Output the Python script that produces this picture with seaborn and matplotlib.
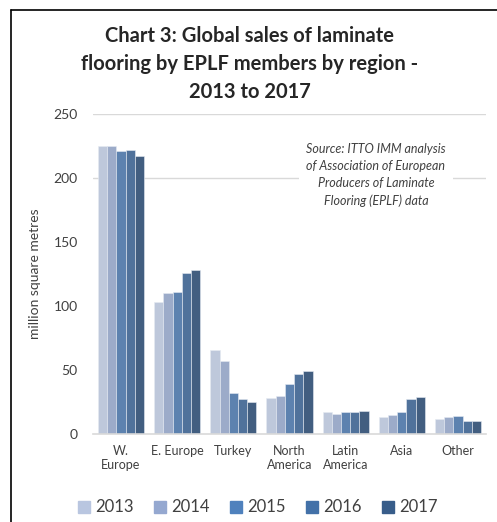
import pandas as pd
import numpy as np
import matplotlib.pyplot as plt
import seaborn as sns
from matplotlib.lines import Line2D

sns.set_style("white")
plt.rcParams['font.family'] = ['Lato', 'DejaVu Sans']

regions = ['W.\nEurope', 'E. Europe', 'Turkey', 'North\nAmerica', 'Latin\nAmerica', 'Asia', 'Other']
years = ['2013', '2014', '2015', '2016', '2017']
sales_2013 = [225, 103, 66, 28, 17, 13, 12]
sales_2014 = [225, 110, 57, 30, 16, 15, 13]
sales_2015 = [221, 111, 32, 39, 17, 17, 14]
sales_2016 = [222, 126, 27, 47, 17, 27, 10]
sales_2017 = [217, 128, 25, 49, 18, 29, 10]
y_ticks = [0, 50, 100, 150, 200, 250]
grid_at = [200, 250]

colors = ['#B9C6E0', '#95A8D0', '#4F81BD', '#4371A8', '#385D8A']

rows = []
for yr, vals in zip(years, [sales_2013, sales_2014, sales_2015, sales_2016, sales_2017]):
    for reg, v in zip(regions, vals):
        rows.append({'region': reg, 'year': yr, 'value': v})
df = pd.DataFrame(rows)

fig = plt.figure(figsize=(4.97, 5.22), dpi=100)
ax = fig.add_axes([0.187, 0.1686, 0.791, 0.613])

for g in grid_at:
    ax.axhline(g, color='#d9d9d9', linewidth=1, zorder=0)

sns.barplot(data=df, x='region', y='value', hue='year', palette=colors,
            width=0.82, edgecolor='#e6ebf3', linewidth=0.4, ax=ax, legend=False,
            zorder=2)

ax.set_ylim(0, 250)
ax.set_xlim(-0.5, 6.5)
ax.set_yticks(y_ticks)
ax.tick_params(axis='both', length=0, colors='#404040')
ax.tick_params(axis='x', pad=8, labelsize=9)
ax.tick_params(axis='y', pad=11, labelsize=10)
ax.set_xlabel('')
ax.set_ylabel('million square metres', fontsize=10, color='#404040', labelpad=9)
for s in ['top', 'right', 'left']:
    ax.spines[s].set_visible(False)
ax.spines['bottom'].set_color('#d9d9d9')
ax.spines['bottom'].set_linewidth(1.2)

ax.text(0.72, 0.81, 'Source: ITTO IMM analysis\nof Association of European\nProducers of Laminate\nFlooring (EPLF) data',
        transform=ax.transAxes, ha='center', va='center', style='italic',
        fontsize=9, color='#404040', linespacing=1.5,
        bbox=dict(facecolor='white', edgecolor='none', pad=5), zorder=5)

fig.text(0.503, 0.877, 'Chart 3: Global sales of laminate\nflooring by EPLF members by region -\n2013 to 2017',
         ha='center', va='center', fontsize=14.5, fontweight='bold', color='#262626',
         linespacing=1.5)

handles = [Line2D([], [], marker='s', linestyle='none', markersize=8,
                  markerfacecolor=c, markeredgecolor=c) for c in colors]
fig.legend(handles, years, loc='center', bbox_to_anchor=(0.52, 0.028), ncol=5,
           frameon=False, fontsize=12, handlelength=0.6, handletextpad=0.35,
           columnspacing=1.3, labelcolor='#404040')

# frame lines on the left and top
fig.add_artist(Line2D([0.022, 0.022], [0.0, 0.981], color='black', linewidth=1.2))
fig.add_artist(Line2D([0.022, 1.0], [0.981, 0.981], color='black', linewidth=1.2))

plt.savefig('out.png', dpi=100)
